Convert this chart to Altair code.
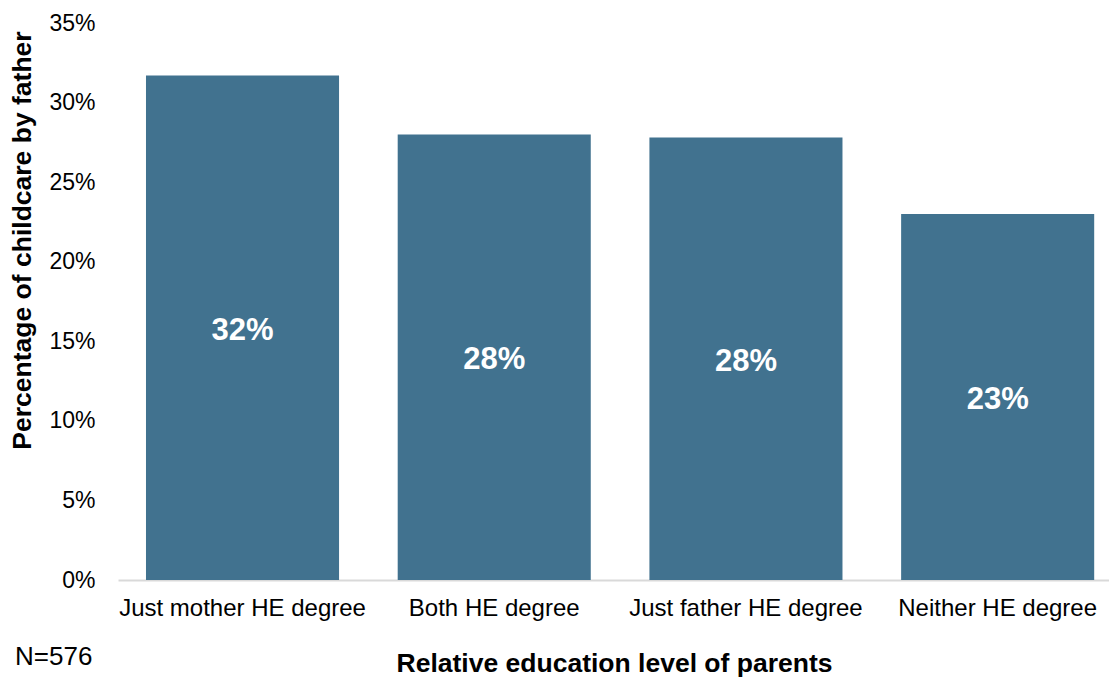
import altair as alt
import pandas as pd

categories = ["Just mother HE degree", "Both HE degree", "Just father HE degree", "Neither HE degree"]
values = [0.317, 0.280, 0.278, 0.230]
labels = ["32%", "28%", "28%", "23%"]

df = pd.DataFrame({"cat": categories, "val": values, "lab": labels})

FONT = "Liberation Sans"
COLOR = "#41728f"

x_enc = alt.X(
    "cat:N",
    sort=categories,
    scale=alt.Scale(paddingInner=0.233, paddingOuter=0.085, align=0.654),
    axis=alt.Axis(
        title="Relative education level of parents",
        titleFont=FONT, titleFontSize=26.5, titleFontWeight="bold", titleColor="black",
        titleX=496, titleY=83, titleBaseline="middle", titleAlign="center",
        labelFont=FONT, labelFontSize=24, labelColor="black", labelAngle=0,
        labelBaseline="middle", labelPadding=28, labelLimit=0,
        ticks=False, domain=True, domainColor="#d9d9d9", domainWidth=2,
        grid=False,
    ),
)

bars = alt.Chart(df).mark_bar(color=COLOR).encode(
    x=x_enc,
    y=alt.Y(
        "val:Q",
        scale=alt.Scale(domain=[0, 0.35], nice=False),
        axis=alt.Axis(
            title="Percentage of childcare by father",
            titleFont=FONT, titleFontSize=26.5, titleFontWeight="bold", titleColor="black",
            titleAngle=270, titleX=-96, titleY=217, titleAlign="center", titleBaseline="middle",
            format=".0%", values=[0, 0.05, 0.1, 0.15, 0.2, 0.25, 0.3, 0.35],
            labelFont=FONT, labelFontSize=23, labelColor="black", labelPadding=23,
            ticks=False, domain=False, grid=False,
        ),
    ),
)

text = alt.Chart(df).transform_calculate(mid="datum.val / 2").mark_text(
    font=FONT, fontSize=31, fontWeight="bold", color="white", baseline="middle", align="center", dy=3
).encode(
    x=alt.X("cat:N", sort=categories),
    y=alt.Y("mid:Q"),
    text="lab:N",
)

note = alt.Chart(pd.DataFrame({"t": ["N=576"]})).mark_text(
    font=FONT, fontSize=26, color="black", align="left", baseline="middle"
).encode(x=alt.value(-103), y=alt.value(634), text="t:N")

chart = (bars + text + note).properties(
    width=991, height=557,
    background="white",
    autosize=alt.AutoSizeParams(type="none"),
    padding={"left": 118, "top": 23, "right": 0, "bottom": 97},
).configure_view(stroke=None, strokeWidth=0)

chart.save("out.html", embed_options={"renderer": "svg", "actions": False})
